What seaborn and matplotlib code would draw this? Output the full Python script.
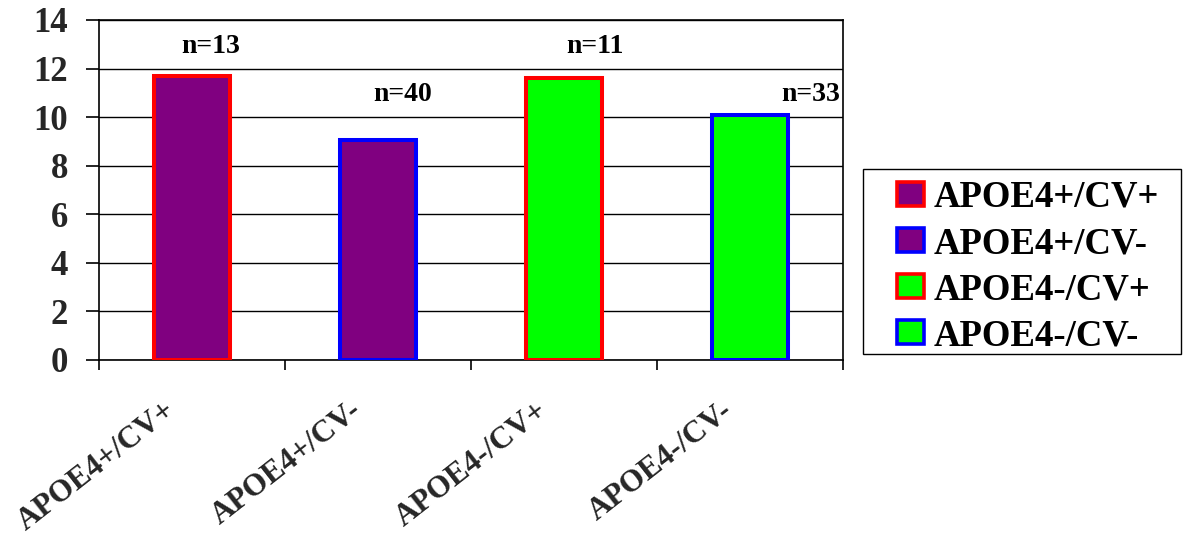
import matplotlib
matplotlib.use("Agg")
import matplotlib.pyplot as plt
from matplotlib.patches import Patch, Rectangle
from matplotlib.transforms import ScaledTranslation
import seaborn as sns
import pandas as pd

# Data
groups = ["APOE4+/CV+", "APOE4+/CV-", "APOE4-/CV+", "APOE4-/CV-"]
values = [11.7, 9.07, 11.63, 10.1]
n_counts = [13, 40, 11, 33]
fill_colors = ["#800080", "#800080", "#00FF00", "#00FF00"]
edge_colors = ["#FF0000", "#0000FF", "#FF0000", "#0000FF"]
y_ticks = [0, 2, 4, 6, 8, 10, 12, 14]

sns.set_theme(style="white")
plt.rcParams["font.family"] = ["Liberation Serif", "DejaVu Serif"]
plt.rcParams["font.weight"] = "bold"
plt.rcParams["text.color"] = "black"

fig = plt.figure(figsize=(11.83, 5.46), dpi=100)
W, H = 1183, 546
ax = fig.add_axes([99 / W, 186 / H, 744 / W, 340 / H])

df = pd.DataFrame({"group": groups, "value": values})
sns.barplot(data=df, x="group", y="value", hue="group", order=groups,
            hue_order=groups, palette=fill_colors, width=0.41, dodge=False,
            legend=False, saturation=1, ax=ax, zorder=3)

for container, ec in zip(ax.containers, edge_colors):
    for bar in container:
        bar.set_edgecolor(ec)
        bar.set_linewidth(2.9)
        bar.set_zorder(3)

# Axes limits, grid and frame
ax.set_xlim(-0.5, 3.5)
ax.set_ylim(0, 14)
ax.set_yticks(y_ticks)
ax.set_yticklabels([str(t) for t in y_ticks], fontsize=25, fontweight="bold")
ax.yaxis.grid(True, color="black", linewidth=1.0, zorder=0)
ax.xaxis.grid(False)
ax.set_axisbelow(True)
for side in ["left", "bottom", "right", "top"]:
    ax.spines[side].set_visible(True)
    ax.spines[side].set_color("black")
    ax.spines[side].set_linewidth(1.2)
ax.set_xlabel("")
ax.set_ylabel("")

ax.tick_params(axis="y", direction="out", length=9.4, width=1.2,
               color="black", pad=13, left=True)

# Category labels at bar centres, tick marks at category boundaries
ax.set_xticks(range(len(groups)))
ax.set_xticklabels(groups, fontsize=22.5, fontweight="bold",
                   rotation=38, rotation_mode="anchor", ha="right", va="center")
ax.tick_params(axis="x", which="major", length=0, pad=34)
ax.set_xticks([i - 0.5 for i in range(len(groups) + 1)], minor=True)
ax.tick_params(axis="x", which="minor", direction="out", length=7.2,
               width=1.2, color="black", bottom=True)
shift = ScaledTranslation(-20 / 100, 0, fig.dpi_scale_trans)
for lbl in ax.get_xticklabels():
    lbl.set_transform(lbl.get_transform() + shift)

# Sample size annotations
label_dx = [0.10, 0.134, 0.167, 0.328]
label_y = [12.9, 10.95, 12.9, 10.95]
for i, (n, dx, y) in enumerate(zip(n_counts, label_dx, label_y)):
    ax.text(i + dx, y, f"n={n}", ha="center", va="center",
            fontsize=20, fontweight="bold", color="black", zorder=4)

# Legend with a framed box on the right
handles = [Patch(facecolor=fc, edgecolor=ec, linewidth=2.6, label=g)
           for g, fc, ec in zip(groups, fill_colors, edge_colors)]
fig.legend(handles=handles, loc="upper left",
           bbox_to_anchor=(897 / W, 1 - 180 / H),
           bbox_transform=fig.transFigure, frameon=False,
           prop={"size": 26.5, "weight": "bold"}, borderpad=0,
           borderaxespad=0, handlelength=0.72, handleheight=0.61,
           handletextpad=0.28, labelspacing=0.3)
fig.add_artist(Rectangle((863 / W, 1 - 354 / H), 318 / W, 185 / H,
                         transform=fig.transFigure, fill=False,
                         edgecolor="black", linewidth=1.0))

fig.savefig("out.png", dpi=100, facecolor="white")
